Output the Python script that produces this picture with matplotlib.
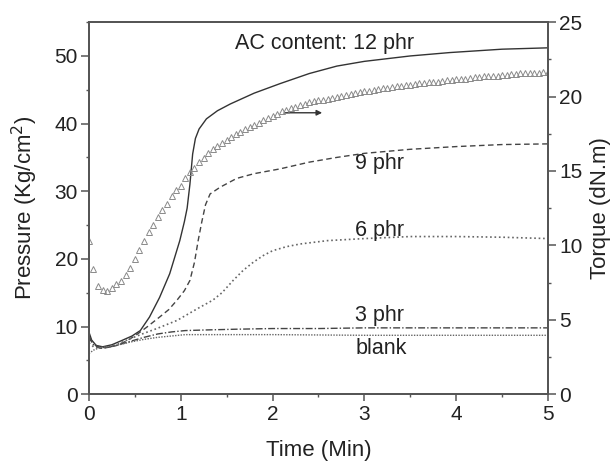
import numpy as np
import matplotlib
matplotlib.use("Agg")
import matplotlib.pyplot as plt
from matplotlib.ticker import MultipleLocator

plt.rcParams['font.family'] = ['Liberation Sans', 'DejaVu Sans']

# pressure curves (Kg/cm2) vs time (min)
t_12 = [0, 0.03, 0.08, 0.15, 0.25, 0.37, 0.47, 0.56, 0.66, 0.77, 0.88, 0.99, 1.04, 1.07, 1.10,
        1.13, 1.16, 1.20, 1.28, 1.4, 1.54, 1.8, 2.08, 2.4, 2.7, 3.0, 3.5, 3.93, 4.5, 5.0]
p_12 = [9.2, 8.0, 7.2, 7.0, 7.3, 8.0, 8.6, 9.4, 11.4, 14.3, 17.8, 22.7, 25.5, 27.5, 31.0,
        35.5, 37.8, 39.2, 40.7, 41.9, 42.9, 44.5, 45.9, 47.4, 48.5, 49.2, 50.0, 50.5, 51.0, 51.2]

t_9 = [0, 0.05, 0.12, 0.2, 0.3, 0.4, 0.5, 0.63, 0.77, 0.87, 0.96, 1.04, 1.10, 1.15, 1.19,
       1.23, 1.27, 1.32, 1.43, 1.61, 1.8, 2.08, 2.4, 2.7, 3.0, 3.5, 4.0, 4.5, 5.0]
p_9 = [8.3, 7.4, 6.9, 6.9, 7.2, 7.8, 8.6, 9.9, 11.4, 12.5, 13.9, 15.3, 16.8, 19.5, 22.7,
       25.5, 28.0, 29.6, 30.6, 31.9, 32.6, 33.3, 34.3, 35.0, 35.6, 36.2, 36.6, 36.9, 37.0]

t_6 = [0, 0.05, 0.12, 0.2, 0.3, 0.45, 0.6, 0.74, 0.96, 1.19, 1.35, 1.45, 1.57, 1.68, 1.79,
       1.9, 2.0, 2.15, 2.3, 2.6, 3.0, 3.5, 4.0, 4.5, 5.0]
p_6 = [7.6, 7.0, 6.8, 6.9, 7.3, 8.2, 9.0, 9.7, 10.9, 12.7, 13.9, 15.0, 16.8, 18.3, 19.5,
       20.5, 21.2, 21.8, 22.2, 22.7, 23.0, 23.3, 23.3, 23.2, 23.0]

t_3 = [0, 0.05, 0.12, 0.2, 0.3, 0.45, 0.6, 0.75, 0.9, 1.05, 1.3, 1.6, 2.0, 2.5, 3.0, 4.0, 5.0]
p_3 = [8.6, 7.3, 6.8, 6.9, 7.2, 7.8, 8.4, 8.9, 9.2, 9.4, 9.5, 9.6, 9.7, 9.7, 9.8, 9.8, 9.8]

t_blank = [0, 0.05, 0.12, 0.2, 0.3, 0.45, 0.6, 0.75, 0.9, 1.05, 1.3, 1.6, 2.0, 3.0, 4.0, 5.0]
p_blank = [6.0, 6.5, 6.9, 7.0, 7.2, 7.7, 8.1, 8.4, 8.6, 8.8, 8.8, 8.8, 8.8, 8.7, 8.7, 8.7]

# torque (dN.m) for 12 phr, sampled every 0.05 min
t_torque = [round(0.05 * i, 2) for i in range(101)]
torque = [10.3, 8.4, 7.3, 7.0, 6.9, 7.1, 7.4, 7.6, 8.0, 8.5,
          9.1, 9.7, 10.3, 10.9, 11.4, 11.9, 12.4, 12.8, 13.3, 13.7,
          14.0, 14.5, 14.9, 15.2, 15.6, 15.9, 16.2, 16.5, 16.7, 16.9,
          17.1, 17.3, 17.5, 17.6, 17.8, 17.95, 18.1, 18.25, 18.4, 18.55,
          18.7, 18.85, 19.0, 19.1, 19.2, 19.3, 19.4, 19.5, 19.6, 19.7,
          19.75, 19.8, 19.85, 19.9, 20.0, 20.05, 20.1, 20.2, 20.25, 20.3,
          20.35, 20.4, 20.45, 20.5, 20.55, 20.6, 20.65, 20.7, 20.7, 20.75,
          20.8, 20.85, 20.9, 20.9, 20.95, 21.0, 21.0, 21.05, 21.1, 21.1,
          21.15, 21.2, 21.2, 21.25, 21.3, 21.3, 21.35, 21.35, 21.4, 21.4,
          21.45, 21.45, 21.5, 21.5, 21.55, 21.55, 21.6, 21.6, 21.6, 21.65,
          21.65]

fig = plt.figure(figsize=(6.13, 4.61), dpi=100)
ax = fig.add_axes([0.145, 0.145, 0.749, 0.807])
ax2 = ax.twinx()

ax.plot(t_12, p_12, '-', color='#333333', lw=1.0)
ax.plot(t_9, p_9, '--', color='#444444', lw=1.0, dashes=(4, 2.5))
ax.plot(t_6, p_6, ':', color='#666666', lw=1.2)
ax.plot(t_3, p_3, '-.', color='#444444', lw=1.0, dashes=(5, 1.5, 1, 1.5))
ax.plot(t_blank, p_blank, ':', color='#666666', lw=1.0, dashes=(1, 1))

ax2.plot(t_torque, torque, linestyle='none', marker='^', markersize=4,
         markerfacecolor='none', markeredgecolor='#8a8a8a', markeredgewidth=0.7)

ax.set_xlim(0, 5)
ax.set_ylim(0, 55)
ax2.set_ylim(0, 25)

ax.xaxis.set_major_locator(MultipleLocator(1))
ax.xaxis.set_minor_locator(MultipleLocator(0.5))
ax.yaxis.set_major_locator(MultipleLocator(10))
ax.yaxis.set_minor_locator(MultipleLocator(5))
ax2.yaxis.set_major_locator(MultipleLocator(5))
ax2.yaxis.set_minor_locator(MultipleLocator(2.5))

spine_c = '#555555'
for a in (ax, ax2):
    for s in a.spines.values():
        s.set_color(spine_c)
        s.set_linewidth(1.3)
    a.tick_params(which='major', direction='out', length=5, width=1.1, color=spine_c,
                  labelsize=15, labelcolor='#222222')
    a.tick_params(which='minor', direction='out', length=2.5, width=1.0, color=spine_c)
ax.tick_params(axis='y', which='major', length=6, pad=2)
ax2.tick_params(axis='y', which='major', length=6, pad=2)
ax.tick_params(axis='x', which='major', pad=3)

ax.set_xlabel('Time (Min)', fontsize=16, color='#222222')
ax.set_ylabel('Pressure (Kg/cm$^2$)', fontsize=16, color='#222222')
ax2.set_ylabel('Torque (dN.m)', fontsize=16, color='#222222')
ax.xaxis.set_label_coords(0.5, -0.122)
ax.yaxis.set_label_coords(-0.107, 0.5)
ax2.yaxis.set_label_coords(1.092, 0.5)

ax.text(1.59, 51.9, 'AC content: 12 phr', fontsize=15.5, color='#222222', va='center')
ax.text(2.90, 34.1, '9 phr', fontsize=15.5, color='#222222', va='center')
ax.text(2.90, 24.2, '6 phr', fontsize=15.5, color='#222222', va='center')
ax.text(2.90, 11.7, '3 phr', fontsize=15.5, color='#222222', va='center')
ax.text(2.90, 6.8, 'blank', fontsize=15.5, color='#222222', va='center')

ax.annotate('', xy=(2.54, 41.6), xytext=(2.14, 41.6),
            arrowprops=dict(arrowstyle='-|>', color='#333333', lw=1.0,
                            mutation_scale=8, shrinkA=0, shrinkB=0))

fig.savefig('out.png', dpi=100)
